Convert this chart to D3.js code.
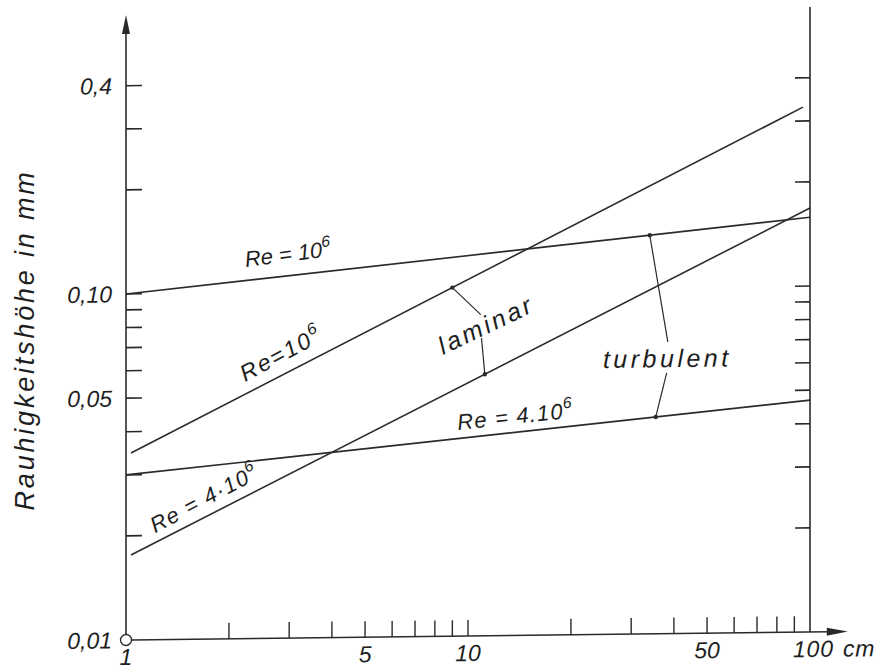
<!DOCTYPE html>
<html><head><meta charset="utf-8">
<script src="https://cdn.jsdelivr.net/npm/d3@7"></script>
<style>
body{margin:0;background:#fff}
text{font-family:"Liberation Sans",Arial,sans-serif;font-style:italic;fill:#1e1e1e}
</style>
</head><body><svg id="c" width="893" height="672"></svg>
<script>
// ---- data ----
const xMinorTicks = [2,3,4,5,6,7,8,9,10,20,30,40,50,60,70,80,90];
const xLabelValues = [1,5,10,50,100];
const xLabelTexts = ["1","5","10","50","100 cm"];
const yTicks = [0.02,0.03,0.04,0.05,0.06,0.07,0.08,0.09,0.1,0.2,0.3,0.4];
const yLabelValues = [0.01,0.05,0.1,0.4];
const yLabelTexts = ["0,01","0,05","0,10","0,4"];
const turbulentRe1e6 = [[1,0.1],[100,0.158]];
const turbulentRe4e6 = [[1,0.03],[100,0.0468]];
const laminarRe1e6 = [[1.034,0.0347],[95.4,0.329]];
const laminarRe4e6 = [[1.034,0.0176],[100,0.168]];
const laminarLeaderX = [9.0, 10.9, 10.95, 11.2];
const laminarLeaderY = [null, 0.0848, 0.0726, null];
const turbulentLeaderX = [34, 38.4, 38.1, 35.4];
const turbulentLeaderY = [null, 0.0697, 0.0567, null];
const yTitle = "Rauhigkeitshöhe in mm";

// ---- scales ----
const x = d3.scaleLog().domain([1,100]).range([126,810]);
const y = d3.scaleLog().domain([0.01,1]).range([640,-52]);
const xEnd = 129, yTop = 0.64;
const shear = 8/684;
const ink = "#2a2a2a";

const svg = d3.select("#c");
const g = svg.append("g")
  .attr("transform", `translate(0,${(x(1))*shear}) skewY(${-Math.atan(shear)*180/Math.PI})`);

// axes lines
g.append("line").attr("x1",x(1)).attr("x2",x(1)).attr("y1",y(0.01)).attr("y2",y(yTop)+16)
  .attr("stroke",ink).attr("stroke-width",1.6);
g.append("path").attr("d",`M${x(1)},${y(yTop)} L${x(1)-4},${y(yTop)+19} L${x(1)+4},${y(yTop)+19} Z`).attr("fill",ink);
g.append("line").attr("x1",x(100)).attr("x2",x(100)).attr("y1",y(0.01)).attr("y2",y(yTop))
  .attr("stroke",ink).attr("stroke-width",1.6);
g.append("line").attr("x1",x(1)+6).attr("x2",x(xEnd)-18).attr("y1",y(0.01)).attr("y2",y(0.01))
  .attr("stroke",ink).attr("stroke-width",1.6);
g.append("path").attr("d",`M${x(xEnd)},${y(0.01)} L${x(xEnd)-21},${y(0.01)-4} L${x(xEnd)-21},${y(0.01)+4} Z`).attr("fill",ink);
g.append("circle").attr("cx",x(1)).attr("cy",y(0.01)).attr("r",5.5)
  .attr("fill","#fff").attr("stroke",ink).attr("stroke-width",1.4);

// ticks
g.selectAll(".yl").data(yTicks).join("line")
  .attr("x1",x(1)).attr("x2",x(1)+16).attr("y1",d=>y(d)).attr("y2",d=>y(d))
  .attr("stroke",ink).attr("stroke-width",1.6);
g.selectAll(".yr").data(yTicks).join("line")
  .attr("x1",x(100)).attr("x2",x(100)-15).attr("y1",d=>y(d)).attr("y2",d=>y(d))
  .attr("stroke",ink).attr("stroke-width",1.6);
g.selectAll(".xt").data(xMinorTicks).join("line")
  .attr("x1",d=>x(d)).attr("x2",d=>x(d)).attr("y1",y(0.01)).attr("y2",y(0.01)-16)
  .attr("stroke",ink).attr("stroke-width",1.4);

// tick labels
g.selectAll(".ylab").data(yLabelValues).join("text")
  .attr("x",x(1)-14).attr("y",d=>y(d)).attr("dy","0.36em")
  .attr("text-anchor","end").attr("font-size",23).text((d,i)=>yLabelTexts[i]);
g.selectAll(".xlab").data(xLabelValues).join("text")
  .attr("x",(d,i)=> i===4 ? x(d)-17 : x(d)).attr("y",y(0.01)+25)
  .attr("text-anchor",(d,i)=> i===4 ? "start":"middle").attr("font-size",23)
  .attr("word-spacing",2).attr("letter-spacing",(d,i)=> i===4 ? 0.8 : 0)
  .text((d,i)=>xLabelTexts[i]);

// y title
svg.append("text").attr("transform",`translate(34,340) rotate(-90)`)
  .attr("text-anchor","middle").attr("font-size",27).attr("letter-spacing",2.8)
  .text(yTitle);

// curves
const line = d3.line().x(d=>x(d[0])).y(d=>y(d[1]));
[turbulentRe1e6,turbulentRe4e6,laminarRe1e6,laminarRe4e6].forEach(s=>{
  g.append("path").attr("d",line(s)).attr("fill","none").attr("stroke",ink).attr("stroke-width",1.6);
});

function onLine(s,xv){
  const t=(Math.log(xv)-Math.log(s[0][0]))/(Math.log(s[1][0])-Math.log(s[0][0]));
  return Math.exp(Math.log(s[0][1])+t*(Math.log(s[1][1])-Math.log(s[0][1])));
}
function leader(xs,ys,top,bot){
  const pts = xs.map((xv,i)=>[xv, ys[i]!==null ? ys[i] : onLine(i===0?top:bot, xv)]);
  g.append("path").attr("d",line([pts[0],pts[1]])).attr("fill","none").attr("stroke",ink).attr("stroke-width",1.2);
  g.append("path").attr("d",line([pts[2],pts[3]])).attr("fill","none").attr("stroke",ink).attr("stroke-width",1.2);
  [pts[0],pts[3]].forEach(p=>g.append("circle").attr("cx",x(p[0])).attr("cy",y(p[1])).attr("r",2.2).attr("fill",ink));
}
leader(laminarLeaderX,laminarLeaderY,laminarRe1e6,laminarRe4e6);
leader(turbulentLeaderX,turbulentLeaderY,turbulentRe1e6,turbulentRe4e6);

// annotations
function label(xv,yv,rot,parts,size,ls){
  const t = g.append("text").attr("transform",`translate(${x(xv)},${y(yv)}) rotate(${rot})`)
    .attr("font-size",size).attr("letter-spacing",ls);
  parts.forEach(p=>{
    if(p.sup) t.append("tspan").attr("dy",-10).attr("font-size",size*0.72).text(p.t);
    else t.append("tspan").text(p.t);
  });
}
label(2.24,0.1186,-6.6,[{t:"Re = 10"},{t:"6",sup:1}],22,0);
label(2.23,0.0552,-27.5,[{t:"Re=10"},{t:"6",sup:1}],23,2);
label(1.216,0.0203,-27.5,[{t:"Re = 4·10"},{t:"6",sup:1}],22,1.3);
label(9.35,0.0394,-5.6,[{t:"Re = 4.10"},{t:"6",sup:1}],22,1.2);
label(8.45,0.065,-25,[{t:"laminar"}],25,3);
label(24.8,0.0589,0,[{t:"turbulent"}],25,3.5);
</script>
</body></html>
